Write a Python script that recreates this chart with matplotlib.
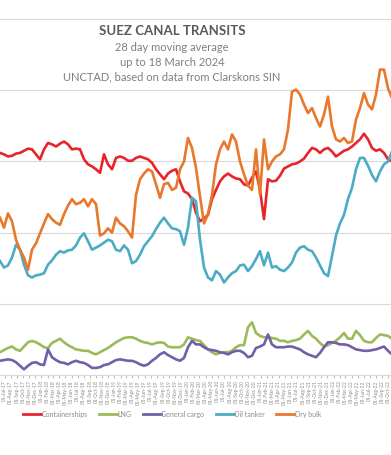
# Suez Canal transits, 28 day moving average (UNCTAD / Clarksons SIN)

import matplotlib
matplotlib.use('Agg')
import matplotlib.pyplot as plt
import matplotlib.dates as mdates
import pandas as pd

plt.rcParams['font.family'] = ['Lato', 'DejaVu Sans']

# one reading every 20 days starting June 2017
start = '2017-06-08'
step_days = 20

containerships = [
    31.2, 31.0, 30.7, 30.8, 31.1, 31.2, 31.5, 31.8, 31.7, 31.0,
    30.3, 31.7, 32.6, 32.4, 32.1, 32.5, 32.8, 32.4, 31.7, 31.8,
    31.7, 30.3, 29.6, 29.3, 28.9, 28.4, 31.0, 29.6, 28.9, 30.5,
    30.7, 30.5, 30.1, 30.1, 30.5, 30.7, 30.5, 30.3, 29.8, 28.9,
    28.2, 27.5, 28.3, 28.7, 28.9, 27.2, 25.8, 25.5, 24.7, 22.8,
    21.6, 22.0, 22.5, 24.7, 26.0, 27.2, 27.9, 28.3, 27.9, 27.6,
    27.5, 26.8, 26.6, 27.7, 28.6, 26.0, 21.9, 27.5, 27.2, 27.3,
    28.0, 29.0, 29.3, 29.6, 29.7, 30.0, 30.4, 31.2, 31.9, 31.7,
    31.2, 31.7, 31.9, 31.4, 30.7, 31.1, 31.5, 31.7, 32.1, 32.6,
    33.1, 33.9, 33.1, 31.9, 31.5, 31.7, 31.2, 30.3, 30.0,
]

lng = [
    3.2, 3.5, 3.8, 4.0, 3.6, 3.4, 4.0, 4.6, 4.8, 4.6,
    4.3, 3.9, 3.8, 4.5, 4.8, 5.1, 4.6, 4.2, 3.9, 3.6,
    3.5, 3.4, 3.4, 3.1, 2.9, 3.2, 3.5, 3.8, 4.2, 4.6,
    4.9, 5.2, 5.3, 5.3, 5.1, 4.8, 4.6, 4.5, 4.3, 4.5,
    4.6, 4.5, 4.0, 3.9, 3.9, 3.9, 4.3, 5.3, 5.1, 4.9,
    4.8, 4.2, 3.6, 3.2, 2.9, 3.1, 3.2, 3.2, 3.4, 3.9,
    4.2, 4.2, 6.7, 7.4, 5.9, 5.5, 5.3, 5.3, 5.2, 5.1,
    4.8, 4.8, 4.6, 4.8, 4.9, 5.1, 5.7, 6.2, 5.5, 5.1,
    4.5, 4.0, 4.2, 4.5, 4.8, 5.3, 5.9, 5.1, 5.1, 6.2,
    5.6, 4.8, 4.6, 4.6, 5.2, 5.7, 5.6, 5.5, 5.1,
]

general_cargo = [
    2.0, 2.1, 2.2, 2.1, 1.8, 1.3, 0.8, 1.3, 1.7, 1.8,
    1.5, 1.4, 3.6, 2.5, 2.1, 1.8, 1.7, 1.5, 1.8, 2.0,
    1.8, 1.7, 1.4, 1.0, 1.0, 1.1, 1.4, 1.5, 1.8, 2.1,
    2.2, 2.1, 2.0, 2.0, 1.8, 1.5, 1.3, 1.5, 2.0, 2.4,
    2.9, 3.2, 2.8, 2.5, 2.2, 2.0, 2.4, 3.9, 4.8, 4.3,
    4.3, 3.9, 3.6, 3.5, 3.4, 3.2, 3.1, 2.9, 3.2, 3.4,
    3.4, 3.1, 2.5, 2.7, 3.8, 4.0, 4.3, 5.7, 4.3, 3.9,
    3.9, 3.9, 4.0, 4.0, 3.8, 3.6, 3.2, 2.9, 2.7, 2.5,
    3.1, 3.9, 4.6, 4.6, 4.5, 4.3, 4.3, 4.2, 3.9, 3.6,
    3.5, 3.4, 3.4, 3.5, 3.6, 3.8, 4.0, 3.4, 2.9,
]

oil_tanker = [
    16.0, 15.1, 15.4, 16.5, 18.3, 17.6, 15.5, 14.0, 13.7, 14.0,
    14.1, 14.3, 15.5, 16.1, 16.9, 17.4, 17.2, 17.5, 17.6, 18.2,
    19.3, 19.9, 18.8, 17.6, 17.9, 18.2, 18.6, 19.0, 18.8, 17.6,
    17.4, 18.2, 17.6, 15.7, 16.0, 16.9, 18.1, 18.8, 19.5, 20.5,
    21.4, 22.1, 21.3, 20.6, 20.5, 20.2, 18.3, 20.7, 24.9, 24.4,
    19.0, 15.1, 13.7, 13.3, 14.6, 14.1, 13.0, 13.7, 14.3, 14.6,
    15.4, 15.5, 14.6, 15.3, 16.3, 17.4, 15.4, 17.2, 15.1, 15.3,
    14.8, 14.6, 15.1, 15.8, 17.2, 17.9, 18.1, 17.6, 17.4, 16.5,
    15.4, 14.3, 13.9, 16.7, 19.6, 21.3, 22.5, 24.7, 26.3, 28.9,
    30.5, 30.5, 29.4, 28.1, 27.2, 28.6, 29.6, 30.0, 31.4,
]

dry_bulk = [
    22.1, 20.7, 22.7, 21.6, 19.0, 17.6, 16.5, 14.8, 17.6, 18.5,
    19.9, 21.3, 22.6, 21.9, 21.4, 21.1, 22.6, 23.8, 24.7, 24.0,
    24.2, 24.7, 23.7, 24.7, 24.0, 19.6, 19.9, 20.6, 20.0, 22.1,
    21.3, 20.9, 20.2, 19.3, 25.3, 27.5, 28.3, 28.9, 28.6, 26.8,
    24.9, 26.8, 27.0, 26.0, 26.3, 28.9, 30.0, 33.3, 31.9, 29.1,
    25.1, 21.3, 22.6, 25.3, 29.6, 31.7, 32.8, 31.7, 33.8, 32.8,
    30.0, 28.2, 26.6, 26.0, 31.7, 25.3, 33.1, 28.9, 30.0, 30.7,
    31.0, 31.7, 34.5, 39.8, 40.1, 39.4, 38.0, 36.8, 37.5, 36.1,
    34.9, 36.6, 39.1, 34.9, 33.1, 32.8, 33.3, 32.6, 32.8, 35.9,
    37.5, 39.6, 38.0, 37.3, 39.4, 42.9, 42.9, 40.3, 38.9,
]

series = [
    ('Containerships', containerships, '#E8242B'),
    ('LNG', lng, '#9BBB59'),
    ('General cargo', general_cargo, '#7060A8'),
    ('Oil tanker', oil_tanker, '#4BACC6'),
    ('Dry bulk', dry_bulk, '#E8782C'),
]

fig = plt.figure(figsize=(3.91, 4.56), dpi=100)
ax = fig.add_axes([0.0, 0.1754, 1.0, 0.7829])

for name, vals, col in series:
    dates = pd.date_range(start, periods=len(vals), freq=f'{step_days}D')
    ax.plot(dates, vals, color=col, lw=1.9, label=name,
            solid_joinstyle='round')

x0 = pd.Timestamp(start)
ax.set_xlim(x0, x0 + pd.Timedelta(days=1955))
ax.set_ylim(0, 50.15)
ax.set_yticks([0, 10, 20, 30, 40, 50])
ax.tick_params(axis='y', left=False, labelleft=False)
ax.grid(axis='y', color='#D9D9D9', lw=0.8)
ax.set_axisbelow(True)
for s in ['left', 'right', 'top']:
    ax.spines[s].set_visible(False)
ax.spines['bottom'].set_color('#D9D9D9')

ax.xaxis.set_major_locator(mdates.MonthLocator())
ax.xaxis.set_major_formatter(mdates.DateFormatter('%d-%b-%y'))
ax.tick_params(axis='x', length=2, color='#BFBFBF', labelsize=3.5,
               labelcolor='#8C8C8C', labelrotation=90, pad=1)

fig.text(0.44, 0.932, 'SUEZ CANAL TRANSITS', ha='center', va='center',
         fontsize=9.5, fontweight='bold', color='#595959')
fig.text(0.44, 0.895, '28 day moving average', ha='center', va='center',
         fontsize=8, color='#7F7F7F')
fig.text(0.44, 0.863, 'up to 18 March 2024', ha='center', va='center',
         fontsize=8, color='#7F7F7F')
fig.text(0.44, 0.831, 'UNCTAD, based on data from Clarskons SIN',
         ha='center', va='center', fontsize=8, color='#7F7F7F')

leg = fig.legend(loc='center', bbox_to_anchor=(0.44, 0.09), ncol=5,
                 frameon=False, fontsize=5, handlelength=2.6,
                 handletextpad=0.1, columnspacing=1.6)
for t in leg.get_texts():
    t.set_color('#8C8C8C')
for line in leg.get_lines():
    line.set_linewidth(2)

fig.savefig('out.png', dpi=100, facecolor='white')
